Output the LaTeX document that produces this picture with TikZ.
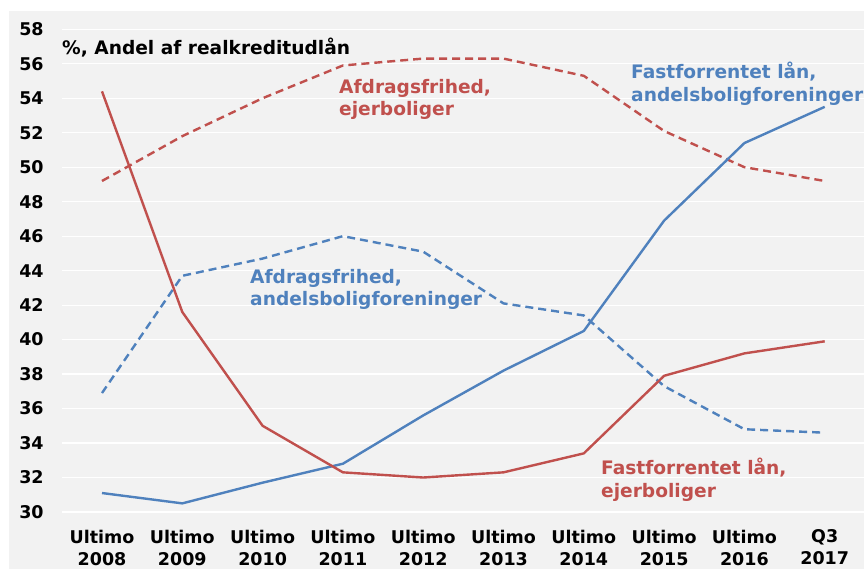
\documentclass[tikz,border=0pt]{standalone}
\usepackage{fontspec}
\setmainfont{DejaVu Sans}
\definecolor{bgc}{HTML}{F2F2F2}
\definecolor{cred}{HTML}{C0504D}
\definecolor{cblue}{HTML}{4F81BD}
\tikzset{
  gridline/.style={draw=white, line width=1.2pt},
  txt/.style={font=\fontsize{17.5}{22}\selectfont\bfseries, inner sep=0pt},
  bigtxt/.style={font=\fontsize{18.6}{22.5}\selectfont\bfseries, inner sep=0pt},
  serieslabel/.style={bigtxt, align=left, anchor=north west},
  solidline/.style={line width=2.4pt, line join=round},
  dashline/.style={line width=2.4pt, line join=round, dash pattern=on 8pt off 5pt},
}
\begin{document}
\begin{tikzpicture}
\useasboundingbox (0,0) rectangle (864pt,569pt);
\fill[white] (0,0) rectangle (864pt,569pt);
\fill[bgc] (9pt,0) rectangle (864pt,558pt);
\begin{scope}[x=80.3pt, y=17.24pt, shift={(102pt,-460.2pt)}]
  % grid and y labels
  \foreach \v in {30,32,...,58} {
    \draw[gridline] (-0.5,\v) -- (9.5,\v);
    \node[txt, anchor=east, xshift=-18pt] (yl\v) at (-0.5,\v) {\v};
  }
  % x labels
  \foreach \t [count=\i from 0] in {Ultimo\\2008,Ultimo\\2009,Ultimo\\2010,Ultimo\\2011,Ultimo\\2012,Ultimo\\2013,Ultimo\\2014,Ultimo\\2015,Ultimo\\2016,Q3\\2017} {
    \node[txt, align=center, yshift=-35.5pt] (xl\i) at (\i,30) {\t};
  }
  % data coordinates
  \foreach \v [count=\i from 0] in {54.4,41.6,35.0,32.3,32.0,32.3,33.4,37.9,39.2,39.9}
    \coordinate (rs\i) at (\i,\v);
  \foreach \v [count=\i from 0] in {49.2,51.8,54.0,55.9,56.3,56.3,55.3,52.1,50.0,49.2}
    \coordinate (rd\i) at (\i,\v);
  \foreach \v [count=\i from 0] in {31.1,30.5,31.7,32.8,35.6,38.2,40.5,46.9,51.4,53.5}
    \coordinate (bs\i) at (\i,\v);
  \foreach \v [count=\i from 0] in {36.9,43.7,44.7,46.0,45.1,42.1,41.4,37.3,34.8,34.6}
    \coordinate (bd\i) at (\i,\v);
  % series
  \draw[dashline, cred] (rd0) \foreach \i in {1,...,9} { -- (rd\i) };
  \draw[dashline, cblue] (bd0) \foreach \i in {1,...,9} { -- (bd\i) };
  \draw[solidline, cblue] (bs0) \foreach \i in {1,...,9} { -- (bs\i) };
  \draw[solidline, cred] (rs0) \foreach \i in {1,...,9} { -- (rs\i) };
\end{scope}
% title and series labels (pixel positions, y measured from top)
\node[bigtxt, anchor=north west] (title) at (62pt,569pt-38pt) {\%, Andel af realkreditudlån};
\node[serieslabel, text=cred] (lrd) at (339pt,569pt-79pt) {Afdragsfrihed,\\ejerboliger};
\node[serieslabel, text=cblue] (lbd) at (250pt,569pt-269pt) {Afdragsfrihed,\\andelsboligforeninger};
\node[serieslabel, text=cblue] (lbs) at (631pt,569pt-62pt) {Fastforrentet lån,\\andelsboligforeninger};
\node[serieslabel, text=cred] (lrs) at (601pt,569pt-458pt) {Fastforrentet lån,\\ejerboliger};
\end{tikzpicture}
\end{document}
